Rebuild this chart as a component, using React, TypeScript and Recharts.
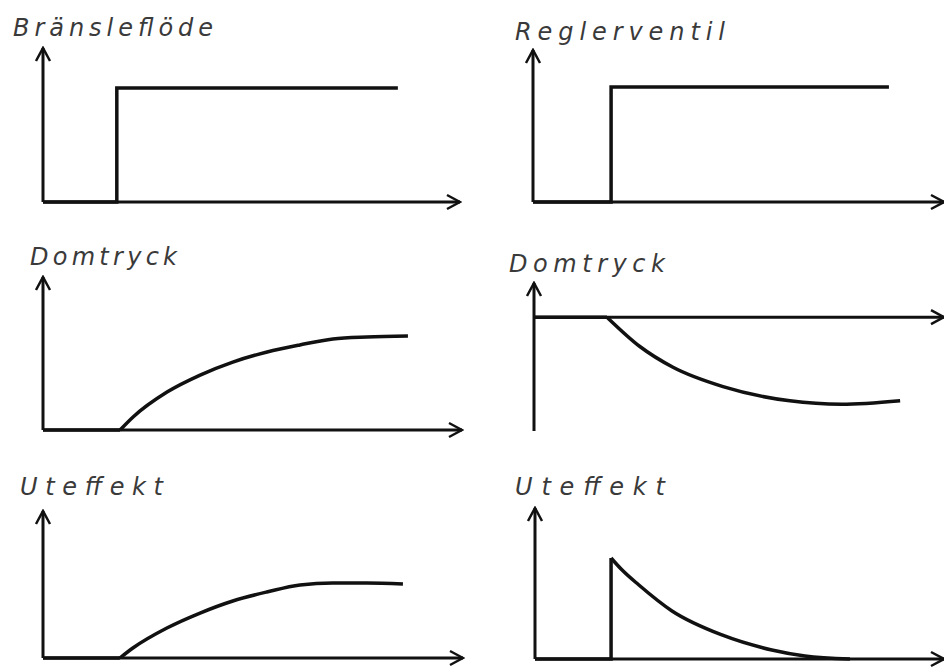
import React from 'react';
import { LineChart, Line, XAxis, YAxis, ReferenceLine } from 'recharts';

const fuelTime = [0, 17.7, 17.7, 85.1];
const fuelValue = [0, 0, 74, 74];

const valveTime = [0, 19.0, 19.0, 86.6];
const valveValue = [0, 0, 75.7, 75.7];

const drumLeftTime = [0, 18.4, 21.5, 29.6, 37.5, 45.3, 53.5, 61.3, 69.2, 77.3, 87.1];
const drumLeftValue = [0, 0, 8.5, 24.8, 35.9, 44.4, 51.0, 55.6, 59.5, 60.8, 61.4];

const drumRightTime = [0, 17.8, 25.9, 33.9, 46.1, 62.4, 75.0, 89.3];
const drumRightValue = [0, 0, -26.0, -44.0, -61.0, -73.5, -76.5, -73.4];

const powerLeftTime = [0, 18.3, 21.4, 29.5, 37.4, 45.2, 53.3, 61.2, 69.0, 77.1, 85.7];
const powerLeftValue = [0, 0, 6.8, 20.4, 30.6, 38.8, 44.9, 49.7, 51.0, 51.0, 50.3];

const powerRightTime = [0, 18.6, 18.6, 21.3, 25.4, 33.5, 45.7, 57.9, 66.0, 77.0];
const powerRightValue = [0, 0, 66.9, 58.9, 49.0, 31.8, 15.9, 6.0, 2.0, 0];

const titles = ['Bränsleflöde', 'Reglerventil', 'Domtryck', 'Domtryck', 'Uteffekt', 'Uteffekt'];

type Pt = { t: number; v: number };
const zip = (t: number[], v: number[]): Pt[] => t.map((x, i) => ({ t: x, v: v[i] }));

interface Panel {
  title: string;
  titleX: number;
  titleY: number;
  titleW: number;
  x0: number; // y-axis position
  x1: number; // x-axis arrow tip
  yTop: number;
  yBottom: number;
  domain: [number, number];
  zeroLine?: boolean;
  straight: Pt[];
  curve?: Pt[];
}

const panels: Panel[] = [
  {
    title: titles[0], titleX: 13, titleY: 36, titleW: 200,
    x0: 43, x1: 460, yTop: 48, yBottom: 202, domain: [0, 100],
    straight: zip(fuelTime, fuelValue),
  },
  {
    title: titles[1], titleX: 515, titleY: 40, titleW: 210,
    x0: 533, x1: 944, yTop: 50, yBottom: 202, domain: [0, 100],
    straight: zip(valveTime, valveValue),
  },
  {
    title: titles[2], titleX: 30, titleY: 265, titleW: 147,
    x0: 43, x1: 462, yTop: 277, yBottom: 430, domain: [0, 100],
    straight: zip(drumLeftTime, drumLeftValue).slice(0, 2),
    curve: zip(drumLeftTime, drumLeftValue).slice(1),
  },
  {
    title: titles[3], titleX: 509, titleY: 272, titleW: 156,
    x0: 534, x1: 944, yTop: 283, yBottom: 430, domain: [-100, 30], zeroLine: true,
    straight: zip(drumRightTime, drumRightValue).slice(0, 2),
    curve: zip(drumRightTime, drumRightValue).slice(1),
  },
  {
    title: titles[4], titleX: 20, titleY: 495, titleW: 143,
    x0: 43, x1: 463, yTop: 511, yBottom: 658, domain: [0, 100],
    straight: zip(powerLeftTime, powerLeftValue).slice(0, 2),
    curve: zip(powerLeftTime, powerLeftValue).slice(1),
  },
  {
    title: titles[5], titleX: 515, titleY: 495, titleW: 150,
    x0: 535, x1: 944, yTop: 508, yBottom: 659, domain: [0, 100],
    straight: zip(powerRightTime, powerRightValue).slice(0, 3),
    curve: zip(powerRightTime, powerRightValue).slice(2),
  },
];

const PAD = 20;
const INK = '#111';

const SketchPanel: React.FC<{ p: Panel }> = ({ p }) => {
  const w = p.x1 - p.x0 + PAD * 2;
  const h = p.yBottom - p.yTop + PAD * 2;
  return (
    <div style={{ position: 'absolute', left: p.x0 - PAD, top: p.yTop - PAD }}>
      <LineChart width={w} height={h} margin={{ top: PAD, right: PAD, bottom: PAD - 1, left: PAD - 1 }}>
        <XAxis
          type="number"
          dataKey="t"
          domain={[0, 100]}
          height={1}
          tick={false}
          tickLine={false}
          hide={p.zeroLine}
          axisLine={{ stroke: INK, strokeWidth: 3, markerEnd: 'url(#sketch-arrow)' }}
        />
        <YAxis
          type="number"
          dataKey="v"
          domain={p.domain}
          width={1}
          tick={false}
          tickLine={false}
          axisLine={{ stroke: INK, strokeWidth: 3, markerStart: 'url(#sketch-arrow)' }}
        />
        {p.zeroLine && (
          <ReferenceLine y={0} stroke={INK} strokeWidth={3} markerEnd="url(#sketch-arrow)" />
        )}
        <Line
          data={p.straight}
          dataKey="v"
          type="linear"
          stroke={INK}
          strokeWidth={3.5}
          dot={false}
          isAnimationActive={false}
        />
        {p.curve && (
          <Line
            data={p.curve}
            dataKey="v"
            type="monotone"
            stroke={INK}
            strokeWidth={3.5}
            dot={false}
            isAnimationActive={false}
          />
        )}
      </LineChart>
    </div>
  );
};

const App: React.FC = () => {
  return (
    <div
      style={{
        position: 'absolute',
        left: 0,
        top: 0,
        width: 944,
        height: 668,
        overflow: 'hidden',
        background: '#fff',
      }}
    >
      <svg width={0} height={0} style={{ position: 'absolute' }}>
        <defs>
          <marker
            id="sketch-arrow"
            markerUnits="userSpaceOnUse"
            markerWidth={18}
            markerHeight={18}
            viewBox="0 0 18 18"
            refX={16}
            refY={9}
            orient="auto-start-reverse"
          >
            <path d="M3,2 L16,9 L3,16" fill="none" stroke={INK} strokeWidth={2.5} />
          </marker>
        </defs>
      </svg>
      {panels.map((p, i) => (
        <SketchPanel key={i} p={p} />
      ))}
      <svg width={944} height={668} style={{ position: 'absolute', left: 0, top: 0, pointerEvents: 'none' }}>
        {panels.map((p, i) => (
          <text
            key={i}
            x={p.titleX}
            y={p.titleY}
            textLength={p.titleW}
            lengthAdjust="spacing"
            fontFamily="'DejaVu Sans', sans-serif"
            fontStyle="italic"
            fontSize={24}
            fill="#3a3a3a"
          >
            {p.title}
          </text>
        ))}
      </svg>
    </div>
  );
};

export default App;
